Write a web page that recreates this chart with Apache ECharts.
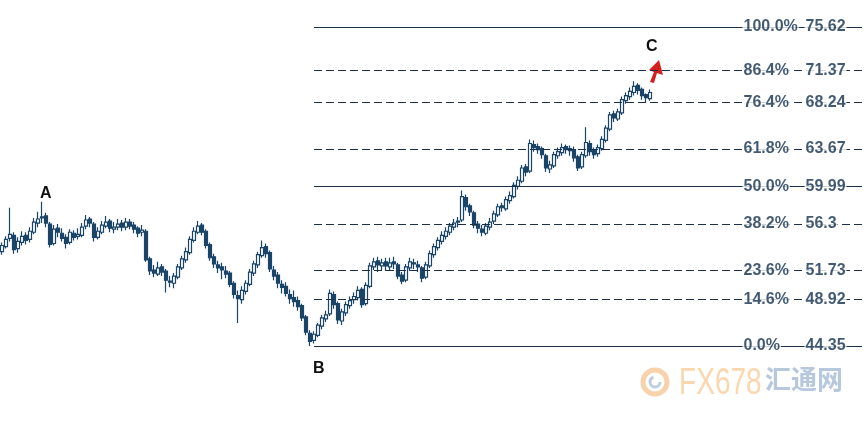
<!DOCTYPE html>
<html>
<head>
<meta charset="utf-8">
<script src="https://cdn.jsdelivr.net/npm/echarts@6/dist/echarts.min.js"></script>
<style>html,body{margin:0;padding:0;background:#fff;}#c{width:864px;height:421px;}</style>
</head>
<body>
<div id="c"></div>
<script>
// Fibonacci levels
const levelPcts = ['100.0%','86.4%','76.4%','61.8%','50.0%','38.2%','23.6%','14.6%','0.0%'];
const levelVals = [75.62, 71.37, 68.24, 63.67, 59.99, 56.3, 51.73, 48.92, 44.35];
const levelText = ['75.62','71.37','68.24','63.67','59.99','56.3','51.73','48.92','44.35'];
const levelSolid = [true, false, false, false, true, false, false, false, true];

// candles: [open, close, low, high]
const candles = [
[53.6,54.2,53.3,54.5],[54.1,54.8,53.9,55.1],[54.9,55.3,54.6,57.9],[55.2,53.8,53.4,55.5],[53.9,54.6,53.5,55.0],
[54.5,55.1,54.2,55.6],[55.2,54.7,54.3,55.5],[54.8,55.6,54.5,56.0],[55.5,56.5,55.3,56.9],[56.4,56.8,56.0,57.5],
[56.9,57.0,56.4,58.5],[57.1,56.4,56.0,57.4],[56.3,54.3,54.0,56.5],[54.4,55.8,54.2,56.2],[55.9,55.5,55.0,56.3],
[55.4,54.9,54.6,55.9],[55.0,54.4,53.9,55.3],[54.5,55.5,54.3,55.8],[55.4,55.0,54.7,55.7],[55.1,55.3,54.8,55.9],
[55.2,56.0,55.0,56.4],[56.1,56.7,55.8,57.2],[56.8,56.4,56.0,57.0],[56.3,55.0,54.6,56.5],[55.0,55.6,54.8,56.0],
[55.5,56.2,55.3,56.6],[56.1,56.5,55.9,57.1],[56.6,55.9,55.5,56.8],[55.8,56.0,55.4,56.5],[56.0,56.3,55.7,56.8],
[56.4,56.0,55.6,56.7],[56.0,56.5,55.7,56.9],[56.5,56.1,55.8,56.8],[56.2,55.8,55.4,56.5],[55.9,55.4,55.0,56.1],
[55.5,55.7,55.1,56.2],[55.6,52.8,52.6,55.8],[52.9,51.7,51.3,53.1],[51.8,51.5,51.1,52.3],[51.4,52.0,51.2,52.6],
[52.1,51.6,51.2,52.4],[51.7,50.8,49.6,51.9],[50.7,50.6,50.1,51.2],[50.5,51.2,50.0,51.5],[51.1,52.1,50.9,52.4],
[52.0,52.9,51.8,53.2],[52.8,53.6,52.5,54.0],[53.5,54.8,53.3,55.1],[54.7,55.6,54.5,56.0],[55.5,56.1,55.3,56.6],
[56.2,55.5,55.2,56.4],[55.6,54.2,53.9,55.8],[54.3,53.0,52.7,54.5],[53.1,52.4,52.0,53.4],[52.3,52.0,51.5,52.7],
[52.1,51.8,50.9,52.5],[51.7,51.4,51.0,52.2],[51.5,50.4,50.1,51.7],[50.5,49.4,49.0,50.7],[49.3,49.0,46.6,49.8],
[48.9,49.8,48.5,50.2],[49.7,50.5,49.4,50.8],[50.4,51.6,50.2,51.9],[51.5,52.4,51.2,52.7],[52.3,53.3,52.0,53.6],
[53.2,54.0,53.0,54.7],[54.1,53.4,53.0,54.4],[53.5,51.9,51.6,53.7],[51.8,51.2,50.8,52.2],[51.3,50.5,50.0,51.6],
[50.4,50.1,49.5,50.8],[50.2,49.5,49.2,50.6],[49.4,49.0,48.5,49.9],[49.1,48.7,48.2,49.8],[48.8,48.2,47.8,49.2],
[48.3,47.1,46.8,48.5],[47.2,45.7,45.4,47.4],[45.6,44.8,44.35,45.9],[44.9,45.5,44.6,45.8],[45.4,46.4,45.2,46.6],
[46.3,47.1,46.0,47.4],[47.0,47.4,46.7,47.8],[47.5,49.5,47.3,49.9],[49.4,48.4,48.0,49.7],[48.5,46.9,46.5,48.7],
[46.8,47.7,46.4,48.0],[47.6,48.4,47.3,48.7],[48.3,48.8,48.0,49.2],[48.9,49.2,48.5,49.6],[49.1,49.8,48.8,50.2],
[49.9,48.4,48.1,50.1],[48.5,50.3,48.3,50.6],[50.2,52.2,50.0,52.5],[52.1,52.6,51.8,53.0],[52.7,52.3,51.6,53.1],
[52.2,52.5,51.8,52.9],[52.6,52.2,51.7,53.0],[52.1,52.5,51.8,53.0],[52.6,52.4,51.9,53.1],[52.3,51.2,50.9,52.5],
[51.3,50.7,50.4,51.6],[50.8,52.1,50.6,52.4],[52.0,52.6,51.7,53.0],[52.5,52.4,51.9,52.9],[52.3,52.1,51.6,52.7],
[52.0,51.0,50.6,52.2],[51.1,52.3,50.9,52.6],[52.2,53.4,52.0,53.7],[53.3,54.1,53.0,54.4],[54.0,54.7,53.7,55.0],
[54.6,55.2,54.3,55.6],[55.1,55.6,54.8,56.0],[55.5,56.1,55.2,56.4],[56.0,56.4,55.7,56.8],[56.5,56.6,56.0,57.0],
[56.7,59.0,56.5,59.6],[58.9,58.0,57.6,59.2],[58.1,57.5,57.1,58.3],[57.4,56.2,55.9,57.6],[56.3,55.9,55.4,56.6],
[55.8,55.5,55.1,56.2],[55.4,56.1,55.2,56.4],[56.0,56.5,55.7,56.9],[56.6,57.3,56.3,57.6],[57.2,58.0,57.0,58.3],
[58.1,57.9,57.5,58.4],[57.8,58.7,57.6,59.0],[58.6,59.1,58.3,59.5],[59.0,60.1,58.8,60.4],[60.0,60.6,59.7,61.0],
[60.5,61.8,60.3,62.1],[61.9,61.4,61.0,62.2],[61.5,64.2,61.3,64.6],[64.1,63.8,63.4,64.5],[63.9,63.6,63.2,64.2],
[63.7,63.1,62.7,63.9],[63.0,61.8,61.4,63.2],[61.7,62.1,61.3,62.5],[62.0,63.1,61.8,63.4],[63.0,63.4,62.7,63.8],
[63.3,63.8,63.0,64.2],[63.9,63.6,63.2,64.1],[63.7,63.5,63.0,64.0],[63.6,62.8,62.4,63.9],[62.9,61.8,61.5,63.1],
[61.9,63.1,61.7,63.4],[63.0,64.3,62.8,65.8],[64.2,63.4,63.0,64.5],[63.5,63.1,62.7,63.8],[63.2,63.8,62.9,64.1],
[63.7,64.6,63.5,64.9],[64.5,65.7,64.3,66.0],[65.6,67.0,65.4,67.3],[67.1,66.7,66.3,67.4],[66.6,67.3,66.4,67.6],
[67.2,68.5,67.0,68.8],[68.4,68.9,68.1,69.2],[68.8,69.3,68.5,69.7],[69.2,69.8,68.9,70.3],[69.9,69.4,69.0,70.1],
[69.5,68.9,68.5,69.7],[69.0,68.7,68.2,69.1],[68.6,69.2,68.4,69.5]
];

const slotCount = 216; // category slots across the full width
const categories = [];
for (let i = 0; i < slotCount; i++) categories.push(String(i));

const lineStart = categories[78];
const lineEnd = categories[slotCount - 1];
const pctSlot = categories[186];
const valSlot = categories[201];

const navy = '#1a4468';
const lineColor = '#1a3049';
const textColor = '#12304e';

const markLines = levelVals.map((v, i) => [
  { coord: [lineStart, v], lineStyle: { type: levelSolid[i] ? 'solid' : [8, 4] } },
  { coord: [lineEnd, v] }
]);

const labelStyle = {
  show: true, position: 'right', distance: 0,
  color: textColor, fontWeight: 'bold', fontSize: 16,
  fontFamily: 'Arial, "Liberation Sans", sans-serif',
  backgroundColor: '#ffffff', padding: [1, 1]
};

const chart = echarts.init(document.getElementById('c'), null, { renderer: 'canvas' });
chart.setOption({
  animation: false,
  backgroundColor: '#ffffff',
  grid: { left: 0, right: 0, top: 27, bottom: 75 },
  xAxis: { type: 'category', data: categories, boundaryGap: true, show: false },
  yAxis: { type: 'value', min: 44.35, max: 75.62, show: false, splitLine: { show: false } },
  series: [
    {
      type: 'candlestick',
      data: candles,
      barWidth: 4,
      itemStyle: { color: '#ffffff', color0: navy, borderColor: navy, borderColor0: navy, borderWidth: 1.2 },
      markLine: {
        silent: true, symbol: ['none', 'none'], animation: false,
        label: { show: false },
        lineStyle: { color: lineColor, width: 1.2 },
        data: markLines
      },
      z: 3
    },
    {
      type: 'scatter', symbolSize: 1, itemStyle: { color: 'rgba(0,0,0,0)' },
      data: levelVals.map((v, i) => ({ value: [pctSlot, v], name: levelPcts[i] })),
      label: Object.assign({}, labelStyle, { offset: [-4, 0], formatter: p => p.name }),
      z: 5
    },
    {
      type: 'scatter', symbolSize: 1, itemStyle: { color: 'rgba(0,0,0,0)' },
      data: levelVals.map((v, i) => ({ value: [valSlot, v], name: levelText[i] })),
      label: Object.assign({}, labelStyle, { offset: [-2, 0], formatter: p => p.name }),
      z: 5
    }
  ],
  graphic: [
    { type: 'text', left: 40, top: 186, style: { text: 'A', fill: '#111', font: 'bold 16px Arial, "Liberation Sans", sans-serif' } },
    { type: 'text', left: 313, top: 361, style: { text: 'B', fill: '#111', font: 'bold 16px Arial, "Liberation Sans", sans-serif' } },
    { type: 'text', left: 646, top: 39, style: { text: 'C', fill: '#111', font: 'bold 16px Arial, "Liberation Sans", sans-serif' } },
    { type: 'polygon', shape: { points: [[650,82],[654,83],[657,73],[663,75],[659,60],[649,70],[654,72]] }, style: { fill: '#d41f1f' } },
    { type: 'circle', shape: { cx: 655, cy: 382, r: 12 }, style: { fill: 'none', stroke: '#f7d2aa', lineWidth: 5 } },
    { type: 'arc', shape: { cx: 655, cy: 382, r: 5, startAngle: 0, endAngle: Math.PI * 1.4 }, style: { fill: 'none', stroke: '#bfcde0', lineWidth: 3 } },
    { type: 'text', x: 679, y: 366, scaleX: 0.78, style: { text: 'FX678', fill: '#fad7ae', font: '36px Arial, "Liberation Sans", sans-serif' } },
    { type: 'text', left: 765, top: 366, style: { text: '汇通网', fill: '#b6c7de', font: 'bold 26px "Noto Sans CJK SC", sans-serif' } }
  ]
});
</script>
</body>
</html>
